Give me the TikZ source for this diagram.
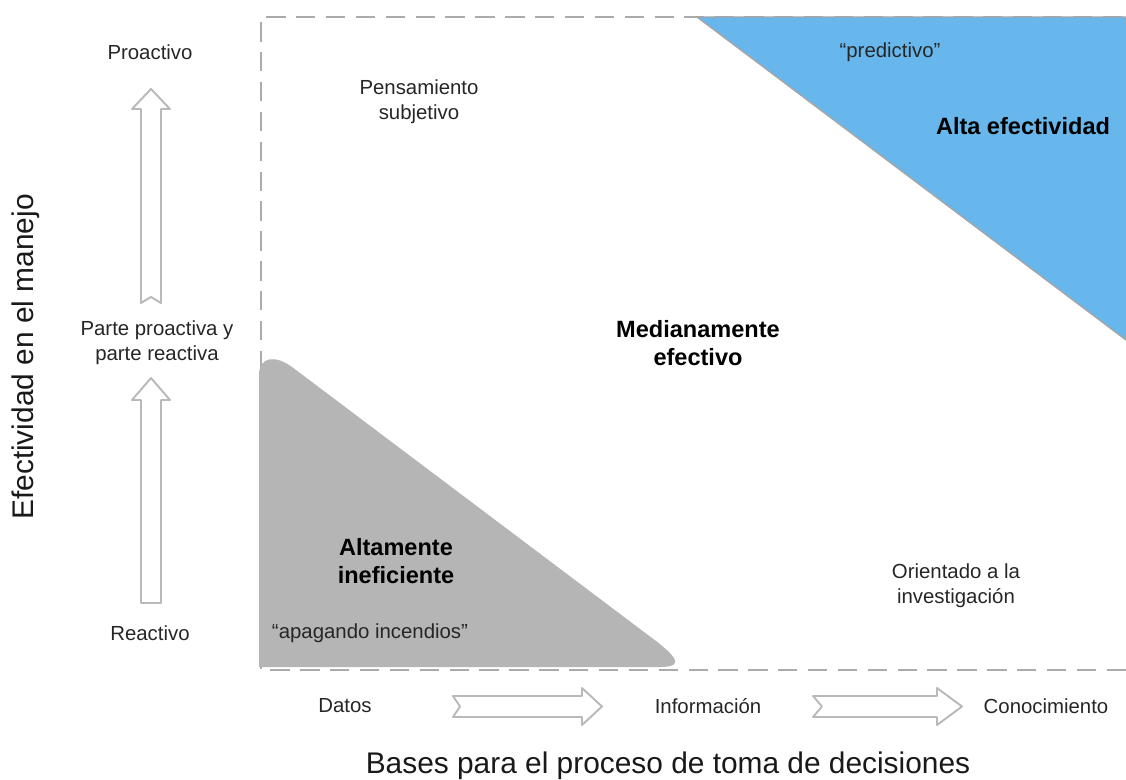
\documentclass[tikz,border=0pt]{standalone}
\usepackage{fontspec}
\setmainfont{Liberation Sans}
\definecolor{bluezone}{HTML}{67B7EC}
\definecolor{grayzone}{HTML}{B5B5B5}
\definecolor{framegray}{HTML}{ABABAB}
\tikzset{
  lbl/.style={align=center, text=black!85, font=\fontsize{11.6}{14.2}\selectfont},
  zonelbl/.style={align=center, font=\bfseries\fontsize{13.4}{16.4}\selectfont},
  axislbl/.style={text=black!90, font=\fontsize{17}{20}\selectfont},
  hollow/.style={draw=gray!55, line width=1.1pt, fill=white, line join=round}
}

\begin{document}
\begin{tikzpicture}[x=0.02cm, y=-0.02cm]
  \useasboundingbox (0,0) rectangle (1126,780);

  % frame of the chart
  \draw[framegray, dash pattern=on 11pt off 6pt, line width=1.7pt]
    (1126,670) -- (261,670) -- (261,17) -- (1126,17);

  % zones
  \fill[grayzone] (259,667) -- (259,375)
    .. controls (259,356) and (276,355) .. (292,367)
    -- (652,638) .. controls (684,662) and (680,667) .. (658,667) -- cycle;
  \draw[gray!70, line width=0.8pt, fill=bluezone]
    (697,17) -- (1126,17) -- (1126,340) -- cycle;

  % hollow arrows
  \draw[hollow] (141,303) -- (141,109) -- (132,109) -- (151,89) -- (170,109)
    -- (161,109) -- (161,303) -- (151,297) -- cycle;
  \draw[hollow] (141,603) -- (141,400) -- (132,400) -- (151,378) -- (170,400)
    -- (161,400) -- (161,603) -- cycle;
  \draw[hollow] (453,696) -- (582,696) -- (582,688) -- (602,706.5) -- (582,725)
    -- (582,717) -- (453,717) -- (460,706.5) -- cycle;
  \draw[hollow] (813,696) -- (937,696) -- (937,688) -- (962,706.5) -- (937,725)
    -- (937,717) -- (813,717) -- (822,706.5) -- cycle;

  % vertical axis
  \node[lbl] (proactivo) at (150,52) {Proactivo};
  \node[lbl] (mixto) at (157,343) {Parte proactiva y\\parte reactiva};
  \node[lbl] (reactivo) at (150,633) {Reactivo};

  % zone labels
  \node[lbl] (subjetivo) at (419,102) {Pensamiento\\subjetivo};
  \node[lbl] (predictivo) at (890,52) {“predictivo”};
  \node[zonelbl] (alta) at (1023,126) {Alta efectividad};
  \node[zonelbl] (media) at (698,343) {Medianamente\\efectivo};
  \node[zonelbl] (baja) at (396,561) {Altamente\\ineficiente};
  \node[lbl] (incendios) at (370,633) {“apagando incendios”};
  \node[lbl] (investigacion) at (956,586) {Orientado a la\\investigación};

  % horizontal axis
  \node[lbl] (datos) at (345,706) {Datos};
  \node[lbl] (informacion) at (708,706) {Información};
  \node[lbl] (conocimiento) at (1046,706) {Conocimiento};

  \node[axislbl] (bases) at (668,766) {Bases para el proceso de toma de decisiones};
  \node[axislbl, rotate=90] (efectividad) at (26,357) {Efectividad en el manejo};
\end{tikzpicture}
\end{document}
